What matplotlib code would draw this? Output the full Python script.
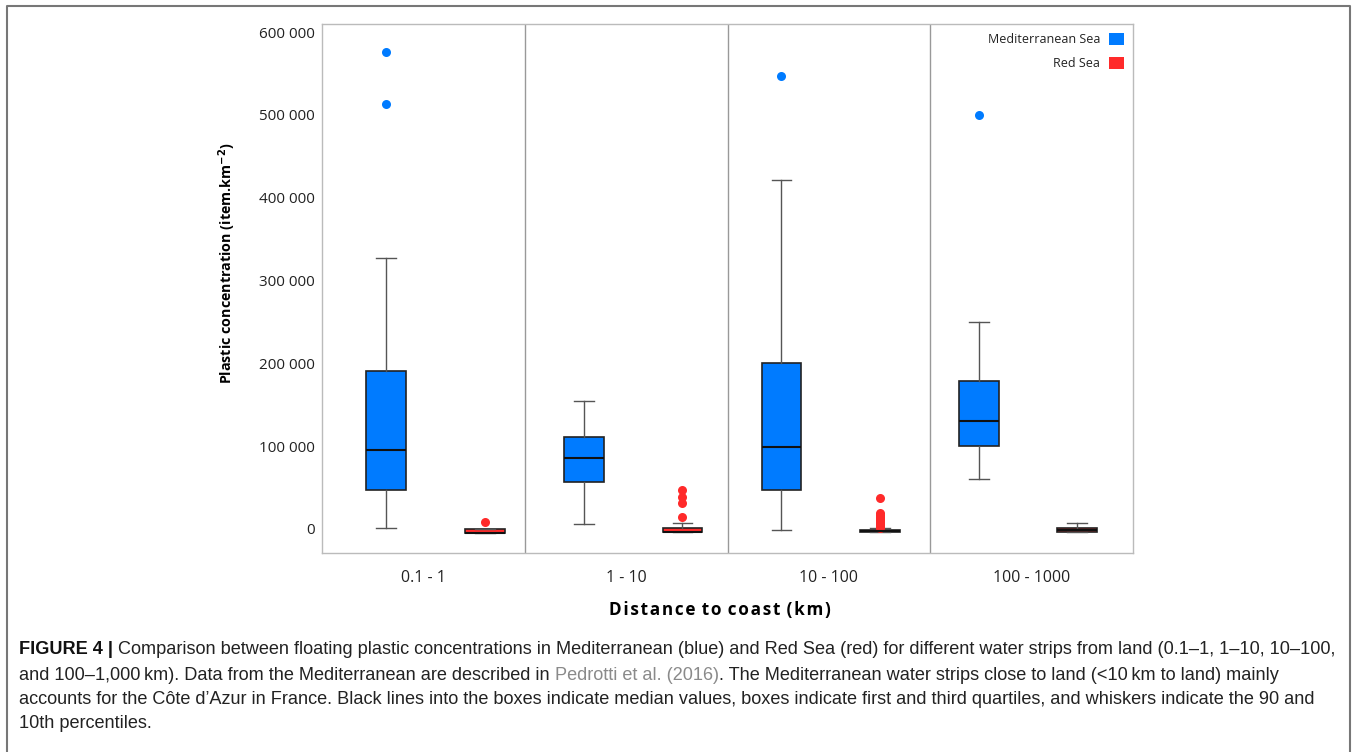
import matplotlib
matplotlib.use("Agg")
import matplotlib.pyplot as plt
from matplotlib.patches import Patch
from matplotlib.ticker import FuncFormatter
from matplotlib import font_manager
import numpy as np

# ---------------- data ----------------
categories = ["0.1 - 1", "1 - 10", "10 - 100", "100 - 1000"]

med_p10 = [1200, 6400, -800, 60000]
med_q1 = [47100, 56400, 47100, 100200]
med_median = [95400, 86000, 99000, 130400]
med_q3 = [190800, 111000, 200400, 178700]
med_p90 = [327200, 154500, 421300, 250000]
med_outliers = [[575900, 513100], [], [547000], [499800]]

red_p10 = [-4500, -3600, -4000, -4000]
red_q1 = [-4500, -3600, -4000, -4000]
red_median = [-4500, -3600, -3000, -800]
red_q3 = [-400, 1600, -1600, 1600]
red_p90 = [-400, 6900, 1200, 7200]
red_outliers = [[8500],
                [46700, 38300, 31000, 14900],
                [37800, 18900, 17000, 15000, 13000, 11000, 9000, 7000, 5000, 3000, 1500],
                []]

legend_labels = ["Mediterranean Sea", "Red Sea"]
y_ticks = [0, 100000, 200000, 300000, 400000, 500000, 600000]

# ---------------- style ----------------
BLUE = "#007bff"
RED = "#ff2a2a"
avail = {f.name for f in font_manager.fontManager.ttflist}
chart_font = "Open Sans" if "Open Sans" in avail else "DejaVu Sans"
cap_font = "Liberation Sans Narrow" if "Liberation Sans Narrow" in avail else "Liberation Sans"

fig = plt.figure(figsize=(13.58, 7.52), dpi=100)
W, H = 1358, 752
ax = fig.add_axes([322 / W, 1 - 553 / H, (1133 - 322) / W, (553 - 24) / H])


def stats(p10, q1, med, q3, p90, out):
    return [dict(whislo=a, q1=b, med=c, q3=d, whishi=e, fliers=f)
            for a, b, c, d, e, f in zip(p10, q1, med, q3, p90, out)]


n = len(categories)
idx = np.arange(n)
pos_blue = idx * 0.975 + 0.316
pos_red = idx * 0.9735 + 0.804
bw = 0.195

common = dict(
    widths=bw, capwidths=bw * 0.5, patch_artist=True, manage_ticks=False,
    whiskerprops=dict(color="#555555", lw=1.0),
    capprops=dict(color="#555555", lw=1.0),
    medianprops=dict(color="#111111", lw=1.5),
)
ax.bxp(stats(med_p10, med_q1, med_median, med_q3, med_p90, med_outliers),
       positions=pos_blue,
       boxprops=dict(facecolor=BLUE, edgecolor="#222222", lw=1.2),
       flierprops=dict(marker="o", markerfacecolor=BLUE, markeredgecolor="none", markersize=6.5),
       **common)
ax.bxp(stats(red_p10, red_q1, red_median, red_q3, red_p90, red_outliers),
       positions=pos_red,
       boxprops=dict(facecolor=RED, edgecolor="#222222", lw=1.2),
       flierprops=dict(marker="o", markerfacecolor=RED, markeredgecolor="none", markersize=6.5),
       **common)

for i in range(1, n):
    ax.axvline(i, color="#999999", lw=1.0)

ax.set_xlim(0, n)
ax.set_ylim(-29000, 609700)
ax.set_xticks(idx + 0.5)
ax.set_xticklabels(categories, fontsize=11.5, family=chart_font, color="#222222")
ax.set_yticks(y_ticks)
ax.yaxis.set_major_formatter(FuncFormatter(lambda v, p: f"{v:,.0f}".replace(",", " ")))
for lab in ax.get_yticklabels():
    lab.set_family(chart_font)
    lab.set_fontsize(11)
    lab.set_color("#222222")
ax.tick_params(axis="both", length=0)
ax.tick_params(axis="y", pad=5)
ax.tick_params(axis="x", pad=12)
for s in ax.spines.values():
    s.set_color("#bbbbbb")
    s.set_linewidth(1.0)

ax.set_ylabel("Plastic concentration (item.km$^{\\mathbf{-2}}$)", fontsize=10.3,
              fontweight="bold", family=chart_font)
ax.yaxis.set_label_coords(-0.1036, 0.548)
ax.set_xlabel("D i s t a n c e   t o   c o a s t   ( k m )".replace(" ", "\u200a").replace("\u200a\u200a\u200a", " \u200a"),
              fontsize=12.3, fontweight="bold", family=chart_font)
ax.xaxis.set_label_coords(0.49, -0.09)

handles = [Patch(facecolor=BLUE, edgecolor="none"), Patch(facecolor=RED, edgecolor="none")]
leg = ax.legend(handles, legend_labels, loc="upper right", frameon=False,
                markerfirst=False, handlelength=1.25, handleheight=1.15,
                handletextpad=0.7, labelspacing=0.85, borderaxespad=0.3,
                prop=dict(family=chart_font, size=9))
for t in leg.get_texts():
    t.set_color("#222222")

# outer frame (top, left, right)
fig.add_artist(plt.Line2D([7 / W, 7 / W, 1350 / W, 1350 / W], [0, 1 - 6 / H, 1 - 6 / H, 0],
                          transform=fig.transFigure, color="#777777", lw=1.5))

# ---------------- caption ----------------
cap_lines = [
    [("FIGURE 4 |", "bold", "#111111"),
     (" Comparison between floating plastic concentrations in Mediterranean (blue) and Red Sea (red) for different water strips from land (0.1–1, 1–10, 10–100,", "normal", "#222222")],
    [("and 100–1,000\u2009km). Data from the Mediterranean are described in ", "normal", "#222222"),
     ("Pedrotti et al. (2016)", "normal", "#8a8a8a"),
     (". The Mediterranean water strips close to land (<10\u2009km to land) mainly", "normal", "#222222")],
    [("accounts for the Côte d’Azur in France. Black lines into the boxes indicate median values, boxes indicate first and third quartiles, and whiskers indicate the 90 and", "normal", "#222222")],
    [("10th percentiles.", "normal", "#222222")],
]
cap_y = [650, 675, 700, 724]
cap_size = 13.05
fig.canvas.draw()
renderer = fig.canvas.get_renderer()
for line, yy in zip(cap_lines, cap_y):
    x = 19
    for txt, wgt, col in line:
        t = fig.text(x / W, 1 - yy / H, txt, fontsize=cap_size, fontweight=wgt, color=col,
                     family=[cap_font, "DejaVu Sans"], va="center", ha="left")
        bb = t.get_window_extent(renderer=renderer)
        x += bb.width

fig.savefig("out.png", dpi=100)
